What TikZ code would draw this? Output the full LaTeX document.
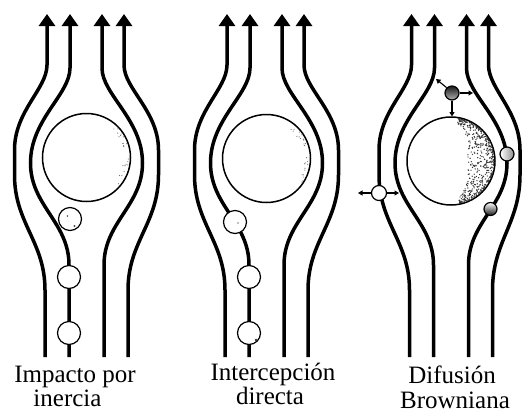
\documentclass[tikz,border=0pt]{standalone}
\usepackage{fontspec}
\setmainfont{Liberation Serif}
\usetikzlibrary{arrows.meta}

% One streamline, drawn from the bottom up to its arrow tip.
% #1 top x, #2 top bend y, #3 bulge x, #4 bulge upper y, #5 bulge lower y,
% #6 bottom x, #7 bottom bend y, #8 bottom y
\newcommand\flowline[8]{%
  \pgfmathsetmacro\ka{0.42*(#7-#5)}%
  \pgfmathsetmacro\kb{0.46*(#4-#2)}%
  \pgfmathsetmacro\kc{0.28*(#4-#2)}%
  \draw[flow] (#6,#8) -- (#6,#7)
    .. controls (#6,#7-\ka) and (#3,#5+\ka) .. (#3,#5) -- (#3,#4)
    .. controls (#3,#4-\kb) and (#1,#2+\kc) .. (#1,#2) -- (#1,14);
}

% The four streamlines round one collector
\newcommand\flowset[1]{%
  \flowline{-39.5}{65}{-72}{150}{175}{-41.5}{290}{357}
  \flowline{-16.5}{68}{-56}{163}{163}{-17.5}{265}{357}
  \flowline{15.5}{68}{56}{163}{163}{17.5}{265}{357}
  \flowline{37.5}{65}{#1}{150}{175}{41.5}{290}{357}
}

% Light speckles along the right rim of a collector
\newcommand\rimspeckle[1]{%
  \foreach \i in {1,...,#1}{%
    \pgfmathsetmacro\ang{rnd*95-50}%
    \pgfmathsetmacro\rad{43-rnd*6}%
    \fill[black!55] (\ang:\rad) circle (0.6);
  }%
}

\begin{document}
\begin{tikzpicture}[x=1pt,y=-1pt,
  flow/.style={line width=3.5pt,-{Triangle[length=12pt,width=16pt]}},
  collector/.style={circle,draw,line width=1.5pt,minimum size=88pt,inner sep=0pt},
  particle/.style={circle,draw,line width=1.2pt,fill=white,inner sep=0pt,minimum size=#1},
  particle/.default=23pt,
  jitter/.style={line width=1.1pt,-{Triangle[length=4.5pt,width=5pt]}},
  caption/.style={anchor=base,inner sep=0pt,font=\fontsize{25}{26}\selectfont}]
\useasboundingbox (0,0) rectangle (522,413);
\pgfmathsetseed{11}

% ---- Impacto por inercia
\begin{scope}[shift={(86.5,0)}]
  \flowset{72}
  \node[collector] (c1) at (0,157.5) {};
  \begin{scope}[shift={(0,157.5)}]\rimspeckle{22}\end{scope}
  \node[particle] (a1) at (-17.5,333) {};
  \node[particle] (a2) at (-17.5,277) {};
  \node[particle] (a3) at (-16.5,219) {};
  \fill[black!70] (-19,216) circle (0.9) (-12,226) circle (1.1);
\end{scope}

% ---- Intercepcion directa
\begin{scope}[shift={(266.5,0)}]
  \flowset{72}
  \node[collector] (c2) at (0,158.5) {};
  \begin{scope}[shift={(0,158.5)}]\rimspeckle{26}\end{scope}
  \node[particle] (b1) at (-17.5,333) {};
  \node[particle] (b2) at (-17.5,277) {};
  \node[particle] (b3) at (-31.5,222) {};
  \fill[black!50] (-28.5,223) circle (0.8);
  \fill[black!80] (-10.5,340) circle (1.4);
\end{scope}

% ---- Difusion browniana
\begin{scope}[shift={(451,0)}]
  \flowset{69}
  \node[collector] (c3) at (0,161) {};
  % stippled shadow on the right side of the collector
  \begin{scope}[shift={(0,161)}]
    \foreach \i in {1,...,520}{%
      \pgfmathsetmacro\ang{rnd*160-80}%
      \pgfmathsetmacro\dep{(rnd^2)*27*cos(\ang)+1}%
      \pgfmathsetmacro\rad{44-\dep}%
      \fill[black!80] (\ang:\rad) circle (0.7);
    }
  \end{scope}
  \node[particle=14pt,top color=black!90,bottom color=black!30] (d1) at (1,93) {};
  \node[particle=15pt] (d2) at (-72,193) {};
  \node[particle=14pt,left color=white,right color=black!45] (d3) at (56,154) {};
  \node[particle=13pt,top color=white,bottom color=black!90] (d4) at (39.5,209) {};
  \coordinate (d1r) at (22,93);
  \coordinate (d1d) at (1,116.5);
  \coordinate (d1u) at (-15,79);
  \coordinate (d2l) at (-93,193);
  \coordinate (d2r) at (-52,193);
  \draw[jitter] (d1.east) -- (d1r);
  \draw[jitter] (d1.south) -- (d1d);
  \draw[jitter] (d1.north west) -- (d1u);
  \draw[jitter] (d2.west) -- (d2l);
  \draw[jitter] (d2.east) -- (d2r);
\end{scope}

% ---- captions
\node[caption] (t1a) at (75,382) {Impacto por};
\node[caption] (t1b) at (67.5,406) {inercia};
\node[caption] (t2a) at (273,380) {Intercepción};
\node[caption] (t2b) at (270,404) {directa};
\node[caption] (t3a) at (452,383) {Difusión};
\node[caption] (t3b) at (455,408) {Browniana};
\end{tikzpicture}
\end{document}
